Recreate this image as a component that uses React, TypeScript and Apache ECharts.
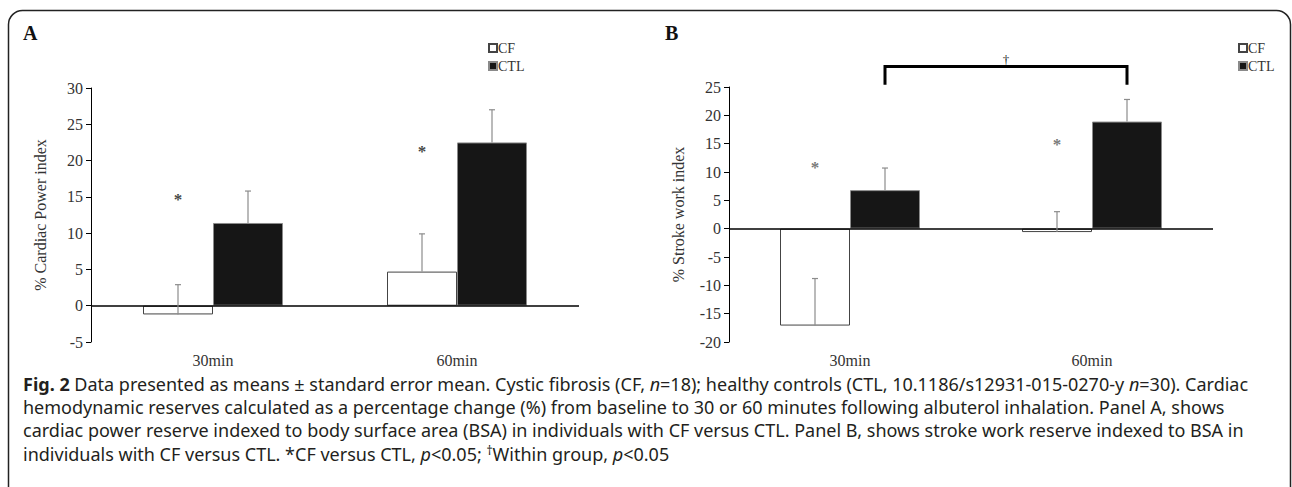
import React, { useEffect, useRef } from "react";
import * as echarts from "echarts";

const categories = ["30min", "60min"];
const seriesNames = ["CF", "CTL"];

// Panel A: % Cardiac Power index
const aCF = [-1.2, 4.7];
const aCTL = [11.4, 22.5];
const aCFErr = [4.1, 5.2];
const aCTLErr = [4.4, 4.5];
const aStars = [15.1, 21.7];
const aTicks = { min: -5, max: 30, interval: 5 };

// Panel B: % Stroke work index
const bCF = [-17.1, -0.6];
const bCTL = [6.8, 18.9];
const bCFErr = [8.3, 3.6];
const bCTLErr = [3.9, 3.9];
const bStars = [11.3, 15.4];
const bTicks = { min: -20, max: 25, interval: 5 };
const bBracket = { top: 28.6, leg: 25.4, dagger: 29.9 };

const captionLines = [
  "{b|Fig. 2} Data presented as means ± standard error mean. Cystic fibrosis (CF, {i|n}=18); healthy controls (CTL, 10.1186/s12931-015-0270-y {i|n}=30). Cardiac",
  "hemodynamic reserves calculated as a percentage change (%) from baseline to 30 or 60 minutes following albuterol inhalation. Panel A, shows",
  "cardiac power reserve indexed to body surface area (BSA) in individuals with CF versus CTL. Panel B, shows stroke work reserve indexed to BSA in",
  "individuals with CF versus CTL. *CF versus CTL, {i|p}<0.05; {sup|†}Within group, {i|p}<0.05",
];

const BAR_W = 70;
const SERIF = "'Liberation Serif', 'Times New Roman', serif";
const SANS = "'Noto Sans', sans-serif";
const CAP = 18;

function errorSeries(axisIdx: number, values: number[], errs: number[], side: number) {
  return {
    type: "custom",
    xAxisIndex: axisIdx,
    yAxisIndex: axisIdx,
    clip: false,
    silent: true,
    z: 5,
    itemStyle: { color: "#8c8c8c" },
    data: values.map((v, i) => [i, v, errs[i]]),
    renderItem: (params: any, api: any) => {
      const c = api.value(0);
      const v = api.value(1);
      const e = api.value(2);
      const p0 = api.coord([c, v]);
      const p1 = api.coord([c, v + e]);
      const x = p0[0] + (side * BAR_W) / 2;
      return {
        type: "group",
        children: [
          { type: "line", shape: { x1: x, y1: p0[1], x2: x, y2: p1[1] }, style: { stroke: "#8c8c8c", lineWidth: 1.2 } },
          { type: "line", shape: { x1: x - 3, y1: p1[1], x2: x + 3, y2: p1[1] }, style: { stroke: "#8c8c8c", lineWidth: 1.2 } },
        ],
      };
    },
  };
}

function starSeries(axisIdx: number, ys: number[], color: string) {
  return {
    type: "scatter",
    xAxisIndex: axisIdx,
    yAxisIndex: axisIdx,
    silent: true,
    symbolSize: 1,
    itemStyle: { color: "rgba(0,0,0,0)" },
    data: ys.map((y, i) => [i, y]),
    label: {
      show: true,
      position: "inside",
      offset: [-BAR_W / 2, 3],
      formatter: "*",
      fontFamily: SERIF,
      fontSize: 17,
      fontWeight: "bold",
      color,
    },
  };
}

function bars(axisIdx: number, cf: number[], ctl: number[]) {
  return [
    {
      name: seriesNames[0],
      type: "bar",
      xAxisIndex: axisIdx,
      yAxisIndex: axisIdx,
      data: cf,
      barWidth: BAR_W,
      barGap: "0%",
      itemStyle: { color: "#ffffff", borderColor: "#444444", borderWidth: 1 },
      markLine: {
        silent: true,
        symbol: "none",
        label: { show: false },
        lineStyle: { color: "#000", width: 1.5, type: "solid" },
        data: [{ yAxis: 0 }],
      },
    },
    {
      name: seriesNames[1],
      type: "bar",
      xAxisIndex: axisIdx,
      yAxisIndex: axisIdx,
      data: ctl,
      barWidth: BAR_W,
      barGap: "0%",
      itemStyle: { color: "#161616", borderColor: "#8a8a8a", borderWidth: 1 },
    },
  ];
}

function yAxis(gridIndex: number, t: { min: number; max: number; interval: number }, name: string) {
  return {
    type: "value",
    gridIndex,
    min: t.min,
    max: t.max,
    interval: t.interval,
    name,
    nameLocation: "middle",
    nameGap: 43,
    nameRotate: 90,
    nameTextStyle: { fontFamily: SERIF, fontSize: 16, color: "#333" },
    axisLine: { show: true, lineStyle: { color: "#000", width: 1 } },
    axisTick: { show: true, length: 5, lineStyle: { color: "#000" } },
    axisLabel: { fontFamily: SERIF, fontSize: 16, color: "#333", margin: 8 },
    splitLine: { show: false },
  };
}

function xAxis(gridIndex: number) {
  return {
    type: "category",
    gridIndex,
    data: categories,
    axisLine: { show: false, onZero: false },
    axisTick: { show: false },
    axisLabel: { fontFamily: SERIF, fontSize: 16, color: "#333", margin: 10 },
    splitLine: { show: false },
  };
}

function legend(left: number) {
  return {
    orient: "vertical",
    left,
    top: 36,
    itemWidth: 8,
    itemHeight: 8,
    itemGap: 4,
    selectedMode: false,
    icon: "rect",
    data: seriesNames,
    textStyle: { fontFamily: SERIF, fontSize: 14, color: "#333", padding: [0, 0, 0, -4] },
  };
}

export default function App() {
  const ref = useRef<HTMLDivElement>(null);
  useEffect(() => {
    document.body.style.margin = "0";
    const chart = echarts.init(ref.current!, undefined, { renderer: "svg" });
    const option: any = {
      animation: false,
      backgroundColor: "#ffffff",
      grid: [
        { left: 91, top: 88, width: 488, height: 254 },
        { left: 729, top: 87, width: 484, height: 255 },
      ],
      xAxis: [xAxis(0), xAxis(1)],
      yAxis: [yAxis(0, aTicks, "% Cardiac Power index"), yAxis(1, bTicks, "% Stroke work index")],
      legend: [legend(483), legend(1233)],
      series: [
        ...bars(0, aCF, aCTL),
        ...bars(1, bCF, bCTL),
        errorSeries(0, aCF, aCFErr, -1),
        errorSeries(0, aCTL, aCTLErr, 1),
        errorSeries(1, bCF, bCFErr, -1),
        errorSeries(1, bCTL, bCTLErr, 1),
        starSeries(0, aStars, "#111111"),
        starSeries(1, bStars, "#555555"),
        {
          type: "custom",
          xAxisIndex: 1,
          yAxisIndex: 1,
          clip: false,
          silent: true,
          itemStyle: { color: "#000000" },
          data: [[0, 1, bBracket.top, bBracket.leg]],
          renderItem: (params: any, api: any) => {
            const a = api.coord([api.value(0), api.value(2)]);
            const b = api.coord([api.value(1), api.value(2)]);
            const legY = api.coord([api.value(0), api.value(3)])[1];
            const xa = a[0] + BAR_W / 2;
            const xb = b[0] + BAR_W / 2;
            return {
              type: "polyline",
              shape: { points: [[xa, legY], [xa, a[1]], [xb, a[1]], [xb, legY]] },
              style: { stroke: "#000", lineWidth: 3, fill: null },
            };
          },
        },
      ],
      graphic: [
        {
          type: "rect",
          shape: { x: 8.5, y: 10.5, width: 1282, height: 500, r: 14 },
          style: { fill: null, stroke: "#222", lineWidth: 1.5 },
          silent: true,
        },
        {
          type: "text",
          left: 23,
          top: 23,
          style: { text: "A", fontFamily: SERIF, fontSize: 20, fontWeight: "bold", fill: "#111" },
        },
        {
          type: "text",
          left: 665,
          top: 23,
          style: { text: "B", fontFamily: SERIF, fontSize: 20, fontWeight: "bold", fill: "#111" },
        },
        ...captionLines.map((line, i) => ({
          type: "text",
          left: 23,
          top: 375 + i * 23,
          style: {
            text: line,
            fontFamily: SANS,
            fontSize: CAP,
            fill: "#231f20",
            rich: {
              b: { fontFamily: SANS, fontSize: CAP, fontWeight: "bold", fill: "#231f20" },
              i: { fontFamily: SANS, fontSize: CAP, fontStyle: "italic", fill: "#231f20" },
              sup: { fontFamily: SANS, fontSize: 12, fill: "#231f20", verticalAlign: "top", padding: [0, 0, 7, 0] },
            },
          },
        })),
      ],
    };
    chart.setOption(option);
    // dagger centred over the bracket, placed from data coordinates
    const p0 = chart.convertToPixel({ xAxisIndex: 1, yAxisIndex: 1 }, [0, bBracket.dagger]) as number[];
    const p1 = chart.convertToPixel({ xAxisIndex: 1, yAxisIndex: 1 }, [1, bBracket.dagger]) as number[];
    chart.setOption({
      graphic: [
        {
          id: "dagger",
          type: "text",
          x: (p0[0] + p1[0]) / 2 + BAR_W / 2,
          y: p0[1],
          style: { text: "†", fontFamily: SERIF, fontSize: 13, fill: "#222", align: "center", verticalAlign: "middle" },
        },
      ],
    });
    return () => chart.dispose();
  }, []);
  return <div ref={ref} style={{ width: 1292, height: 487 }} />;
}
